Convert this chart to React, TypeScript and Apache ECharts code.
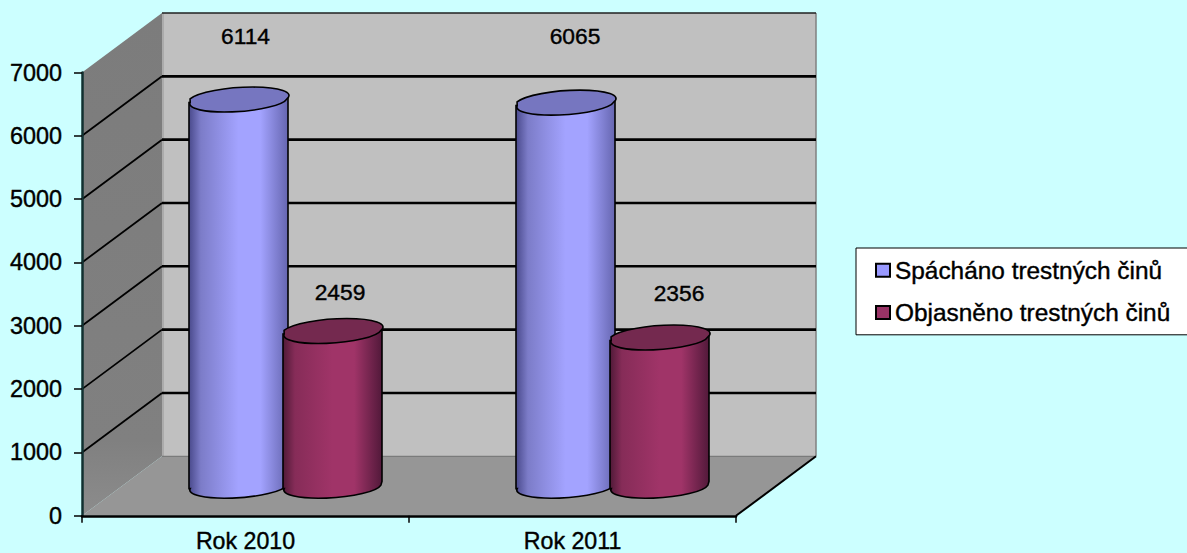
import React, { useEffect, useRef } from "react";
import * as echarts from "echarts";

const categories = ["Rok 2010", "Rok 2011"];
const committedName = "Spácháno trestných činů";
const solvedName = "Objasněno trestných činů";
const committed = [6114, 6065];
const solved = [2459, 2356];
const ticks = [0, 1000, 2000, 3000, 4000, 5000, 6000, 7000];

// layout constants (3D look)
const DEPTH_X = 80;
const DEPTH_Y = 59.5;
const FONT = "'Liberation Sans', Arial, sans-serif";
const committedLabelShift = [[7, 63], [9.5, 66]];
const solvedLabelShift = [[7.5, 38], [19.5, 43.5]];

function frameItem(params: any, api: any) {
  const c = params.coordSys;
  const L = c.x, R = c.x + c.width;
  const y0 = api.coord([0, 0])[1];
  const yTop = api.coord([0, 7000])[1];
  const children: any[] = [
    { type: "polygon", shape: { points: [[L, yTop], [L + DEPTH_X, yTop - DEPTH_Y], [L + DEPTH_X, y0 - DEPTH_Y], [L, y0]] },
      style: { fill: { type: "linear", x: 0, y: 0, x2: 0, y2: 1, colorStops: [{ offset: 0, color: "#7c7c7c" }, { offset: 0.85, color: "#808080" }, { offset: 1, color: "#8c8c8c" }] } } },
    { type: "rect", shape: { x: L + DEPTH_X, y: yTop - DEPTH_Y, width: R - L, height: y0 - yTop }, style: { fill: "#C0C0C0" } },
    { type: "rect", shape: { x: L + DEPTH_X, y: yTop - DEPTH_Y, width: 2, height: y0 - yTop }, style: { fill: "#ABABAB" } },
    { type: "polygon", shape: { points: [[L, y0], [L + DEPTH_X, y0 - DEPTH_Y], [R + DEPTH_X, y0 - DEPTH_Y], [R, y0]] }, style: { fill: "#969696" } },
    { type: "line", shape: { x1: L + DEPTH_X, y1: y0 - DEPTH_Y, x2: R + DEPTH_X, y2: y0 - DEPTH_Y }, style: { stroke: "#707070", lineWidth: 1 } },
    { type: "line", shape: { x1: R + DEPTH_X, y1: yTop - DEPTH_Y, x2: R + DEPTH_X, y2: y0 - DEPTH_Y }, style: { stroke: "#808080", lineWidth: 1.5 } },
    { type: "line", shape: { x1: R + DEPTH_X, y1: y0 - DEPTH_Y, x2: R, y2: y0 }, style: { stroke: "#000", lineWidth: 2 } },
    { type: "line", shape: { x1: L + DEPTH_X, y1: yTop - DEPTH_Y, x2: R + DEPTH_X, y2: yTop - DEPTH_Y }, style: { stroke: "#202020", lineWidth: 1.5 } },
  ];
  ticks.forEach((t) => {
    if (t === 0 || t === 7000) return;
    const y = api.coord([0, t])[1];
    children.push({ type: "line", shape: { x1: L, y1: y, x2: L + DEPTH_X, y2: y - DEPTH_Y }, style: { stroke: "#000", lineWidth: 1.8 } });
    children.push({ type: "line", shape: { x1: L + DEPTH_X, y1: y - DEPTH_Y, x2: R + DEPTH_X, y2: y - DEPTH_Y }, style: { stroke: "#000", lineWidth: 2.6 } });
  });
  return { type: "group", children };
}

function cylinderItem(sign: number, stops: string[], topFill: string, shifts: number[][]) {
  return (params: any, api: any) => {
    const i = api.value(0);
    const v = api.value(1);
    const catW = api.size([1, 0])[0];
    const cx = api.coord([i, 0])[0] + DEPTH_X / 2 + (sign * 47 * catW) / 327;
    const half = (catW * 99) / 327 / 2;
    const yBase = api.coord([i, 0])[1] - DEPTH_Y / 2 - 1;
    const yTop = api.coord([i, v])[1] - DEPTH_Y / 2;
    const ry = 10.8;
    const dy = 3.6;
    const inner = half - 1.2;
    const rx = Math.hypot(inner, dy);
    const rot = (-Math.atan2(dy, inner) * 180) / Math.PI;
    const lX = cx - half, rX = cx + half;
    const body = `M${lX} ${yTop + dy}L${lX} ${yBase + dy}L${cx - inner} ${yBase + dy}A${rx} ${ry} ${rot} 0 0 ${cx + inner} ${yBase - dy}L${rX} ${yBase - dy}L${rX} ${yTop - dy}Z`;
    const top = `M${cx - inner} ${yTop + dy}A${rx} ${ry} ${rot} 1 0 ${cx + inner} ${yTop - dy}A${rx} ${ry} ${rot} 1 0 ${cx - inner} ${yTop + dy}Z`;
    const fill = {
      type: "linear", x: 0, y: 0, x2: 1, y2: 0,
      colorStops: [
        { offset: 0, color: stops[0] },
        { offset: 0.12, color: stops[1] },
        { offset: 0.5, color: stops[2] },
        { offset: 0.72, color: stops[2] },
        { offset: 1, color: stops[3] },
      ],
    };
    return {
      type: "group",
      children: [
        { type: "path", shape: { pathData: body }, style: { fill, stroke: "#000", lineWidth: 1.6 } },
        { type: "path", shape: { pathData: top }, style: { fill: topFill, stroke: "#000", lineWidth: 1.6 } },
        { type: "text", style: { x: cx + shifts[params.dataIndex][0], y: yTop - shifts[params.dataIndex][1], text: String(v), fill: "#000", stroke: "#000", lineWidth: 0.4, font: `22.8px ${FONT}`, align: "center", verticalAlign: "middle" } },
      ],
    };
  };
}

export default function App() {
  const ref = useRef<HTMLDivElement>(null);
  useEffect(() => {
    const chart = echarts.init(ref.current!, undefined, { renderer: "svg" });
    chart.setOption({
      animation: false,
      backgroundColor: "#CCFFFF",
      grid: { left: 82, right: 451, top: 72.5, bottom: 35.5 },
      legend: {
        orient: "vertical",
        left: 856,
        top: 248,
        icon: "rect",
        itemWidth: 14,
        itemHeight: 13,
        itemGap: 18,
        padding: [10, 30, 10, 19],
        backgroundColor: "#fff",
        borderColor: "#000",
        borderWidth: 1,
        borderRadius: 0,
        selectedMode: false,
        itemStyle: { borderColor: "#000", borderWidth: 2 },
        textStyle: { fontFamily: FONT, fontSize: 24.4, color: "#000", textBorderColor: "#000", textBorderWidth: 0.4 },
        data: [committedName, solvedName],
      },
      xAxis: {
        type: "category",
        data: categories,
        z: 10,
        boundaryGap: true,
        axisLine: { show: true, lineStyle: { color: "#000", width: 2.5 } },
        axisTick: { show: true, length: 7, alignWithLabel: false, lineStyle: { color: "#000", width: 1.5 } },
        axisLabel: { color: "#000", fontFamily: FONT, fontSize: 23.2, margin: 14, textBorderColor: "#000", textBorderWidth: 0.4 },
      },
      yAxis: {
        type: "value",
        min: 0,
        max: 7000,
        interval: 1000,
        z: 10,
        splitLine: { show: false },
        axisLine: { show: true, lineStyle: { color: "#103030", width: 2.5 } },
        axisTick: { show: true, length: 8, lineStyle: { color: "#000", width: 1.5 } },
        axisLabel: { color: "#000", fontFamily: FONT, fontSize: 23.4, margin: 20, padding: [2, 0, 0, 0], formatter: (v: number) => String(v), textBorderColor: "#000", textBorderWidth: 0.4 },
      },
      series: [
        { type: "custom", name: "frame", silent: true, data: [[0, 0]], encode: { x: 0, y: 1 }, renderItem: frameItem, z: 1 },
        {
          type: "custom", name: committedName, z: 2,
          itemStyle: { color: "#9999FF" },
          data: committed.map((v, i) => [i, v]), encode: { x: 0, y: 1 },
          renderItem: cylinderItem(-1, ["#4a4a8c", "#7c7cc8", "#A3A3FF", "#6666b0"], "#7676C0", committedLabelShift),
        },
        {
          type: "custom", name: solvedName, z: 3,
          itemStyle: { color: "#993366" },
          data: solved.map((v, i) => [i, v]), encode: { x: 0, y: 1 },
          renderItem: cylinderItem(1, ["#501a38", "#862c58", "#A03468", "#52193a"], "#74294F", solvedLabelShift),
        },
      ],
    });
    return () => chart.dispose();
  }, []);
  return <div ref={ref} style={{ position: "absolute", left: 0, top: 0, width: 1187, height: 553 }} />;
}
